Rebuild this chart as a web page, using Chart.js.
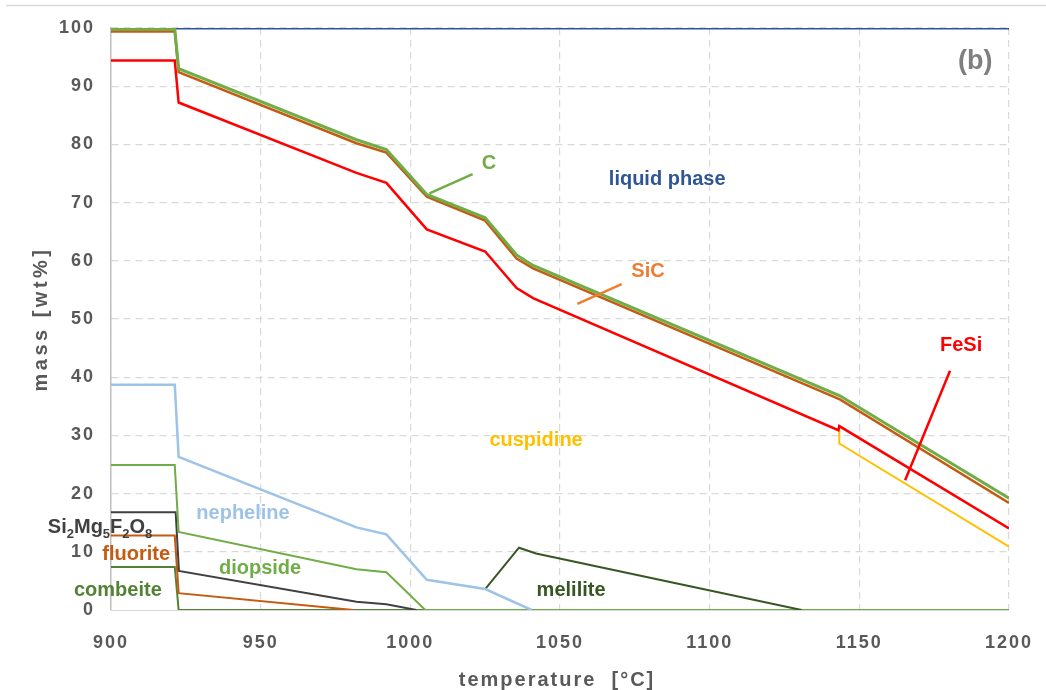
<!DOCTYPE html>
<html>
<head>
<meta charset="utf-8">
<script src="https://cdn.jsdelivr.net/npm/chart.js@4"></script>
<style>
  html, body { margin: 0; padding: 0; background: #fff; }
  #myChart { display: block; }
</style>
</head>
<body>
<canvas id="myChart" width="1046" height="690"></canvas>
<script>
// temperature ticks
const tempTicks = [900, 950, 1000, 1050, 1100, 1150, 1200];

// phases: temperature [°C] and mass [wt%]
const liquidTemp = [921.4, 1200];
const liquidMass = [100, 100];

const cTemp = [900, 921.3, 922.6, 982, 992, 1005.5, 1025, 1035.5, 1041, 1143.5, 1200];
const cMass = [99.8, 99.8, 93.0, 80.8, 79.1, 71.4, 67.4, 61.0, 59.2, 36.8, 19.2];

const sicTemp = [900, 921.3, 922.6, 982, 992, 1005.5, 1025, 1035.5, 1041, 1143.5, 1200];
const sicMass = [99.4, 99.4, 92.4, 80.2, 78.6, 71.0, 66.9, 60.4, 58.7, 36.2, 18.4];

const fesiTemp = [900, 921.3, 922.6, 982, 992, 1005.5, 1025, 1035.5, 1041, 1143.0, 1143.3, 1200];
const fesiMass = [94.4, 94.4, 87.2, 75.1, 73.4, 65.4, 61.6, 55.3, 53.6, 30.9, 31.6, 14.0];

const cuspTemp = [1143.3, 1143.3, 1200];
const cuspMass = [31.3, 28.6, 10.9];

const nephTemp = [900, 921.3, 922.6, 982, 992, 1005.5, 1025, 1040.5];
const nephMass = [38.7, 38.7, 26.3, 14.2, 13.0, 5.2, 3.6, 0];

const melTemp = [1025, 1036.3, 1042, 1130.7];
const melMass = [3.6, 10.7, 9.7, 0];

const diopTemp = [900, 921.3, 922.6, 982, 992, 1005, 1200];
const diopMass = [24.9, 24.9, 13.4, 7.0, 6.5, 0, 0];

const simgTemp = [900, 921.6, 922.7, 982, 992, 1002];
const simgMass = [16.8, 16.8, 6.7, 1.4, 1.0, 0];

const fluoTemp = [900, 921.3, 922.6, 981];
const fluoMass = [12.8, 12.8, 2.9, 0];

const combTemp = [900, 921.3, 922.6, 1005];
const combMass = [7.4, 7.4, 0, 0];

function pts(t, m) {
  return t.map((x, i) => ({ x: x, y: m[i] }));
}

function line(label, t, m, color, width) {
  return {
    label: label,
    data: pts(t, m),
    borderColor: color,
    backgroundColor: color,
    borderWidth: width,
    pointRadius: 0,
    tension: 0,
    fill: false,
  };
}

// text labels placed in data units
const labels = [
  { text: "(b)", x: 1188.7, y: 94.2, color: "#7F7F7F", size: 27 },
  { text: "liquid phase", x: 1085.8, y: 73.9, color: "#2F5597", size: 20 },
  { text: "C", x: 1026.3, y: 76.8, color: "#70AD47", size: 20 },
  { text: "SiC", x: 1079.4, y: 58.1, color: "#ED7D31", size: 20 },
  { text: "FeSi", x: 1184.0, y: 45.4, color: "#FF0000", size: 20 },
  { text: "cuspidine", x: 1042.0, y: 29.2, color: "#FFC000", size: 20 },
  { text: "nepheline", x: 944.1, y: 16.5, color: "#9DC3E6", size: 20 },
  { text: "diopside", x: 949.8, y: 7.2, color: "#70AD47", size: 20 },
  { text: "fluorite", x: 908.4, y: 9.5, color: "#C55A11", size: 20 },
  { text: "combeite", x: 902.3, y: 3.3, color: "#548235", size: 20 },
  { text: "melilite", x: 1053.7, y: 3.4, color: "#375623", size: 20 },
];

// leader lines [x, y] in data units
const leaders = [
  { from: [1006.4, 71.6], to: [1020.8, 74.9], color: "#70AD47" },
  { from: [1055.8, 52.6], to: [1070.6, 56.0], color: "#ED7D31" },
  { from: [1165.3, 22.3], to: [1180.3, 41.1], color: "#FF0000" },
];

const decor = {
  id: "decor",
  beforeLayout(chart) {
    chart.ctx.letterSpacing = "2px";
  },
  beforeDraw(chart) {
    const ctx = chart.ctx;
    ctx.letterSpacing = "2px";
    ctx.save();
    ctx.strokeStyle = "#D9D9D9";
    ctx.lineWidth = 1.5;
    ctx.beginPath();
    ctx.moveTo(6, 5.5);
    ctx.lineTo(1046, 5.5);
    ctx.stroke();
    ctx.restore();
  },
  afterDatasetsDraw(chart) {
    const ctx = chart.ctx;
    const xs = chart.scales.x;
    const ys = chart.scales.y;
    ctx.save();
    ctx.lineWidth = 2.5;
    leaders.forEach((l) => {
      ctx.strokeStyle = l.color;
      ctx.beginPath();
      ctx.moveTo(xs.getPixelForValue(l.from[0]), ys.getPixelForValue(l.from[1]));
      ctx.lineTo(xs.getPixelForValue(l.to[0]), ys.getPixelForValue(l.to[1]));
      ctx.stroke();
    });
    ctx.letterSpacing = "0px";
    ctx.textAlign = "center";
    ctx.textBaseline = "middle";
    labels.forEach((l) => {
      ctx.font = "bold " + l.size + 'px "Liberation Sans", Arial, sans-serif';
      ctx.fillStyle = l.color;
      ctx.fillText(l.text, xs.getPixelForValue(l.x), ys.getPixelForValue(l.y));
    });

    // Si2Mg5F2O8 with subscripts
    const parts = [["Si", 0], ["2", 1], ["Mg", 0], ["5", 1], ["F", 0], ["2", 1], ["O", 0], ["8", 1]];
    let px = xs.getPixelForValue(878.9);
    const py = ys.getPixelForValue(14.1);
    ctx.textAlign = "left";
    ctx.fillStyle = "#404040";
    parts.forEach((p) => {
      ctx.font = p[1] ? 'bold 13px "Liberation Sans", Arial, sans-serif' : 'bold 20px "Liberation Sans", Arial, sans-serif';
      ctx.fillText(p[0], px, py + (p[1] ? 6 : 0));
      px += ctx.measureText(p[0]).width;
    });

    // axis titles
    ctx.fillStyle = "#595959";
    ctx.textAlign = "center";
    ctx.font = 'bold 20px "Liberation Sans", Arial, sans-serif';
    ctx.letterSpacing = "2px";
    ctx.fillText("temperature  [°C]", 557, 680);
    ctx.translate(41, 319);
    ctx.rotate(-Math.PI / 2);
    ctx.letterSpacing = "3.5px";
    ctx.font = 'bold 20px "Liberation Sans", Arial, sans-serif';
    ctx.fillText("mass [wt%]", 0, 0);
    ctx.restore();
    ctx.letterSpacing = "2px";
  },
};

const ctx = document.getElementById("myChart");
new Chart(ctx, {
  type: "line",
  data: {
    datasets: [
      line("C", cTemp, cMass, "#70AD47", 3),
      line("SiC", sicTemp, sicMass, "#C55A11", 2.5),
      line("FeSi", fesiTemp, fesiMass, "#FF0000", 2.5),
      line("cuspidine", cuspTemp, cuspMass, "#FFC000", 2),
      line("liquid phase", liquidTemp, liquidMass, "#2F5597", 3),
      line("nepheline", nephTemp, nephMass, "#9DC3E6", 2.5),
      line("melilite", melTemp, melMass, "#375623", 2),
      line("diopside", diopTemp, diopMass, "#70AD47", 2),
      line("Si2Mg5F2O8", simgTemp, simgMass, "#404040", 2),
      line("fluorite", fluoTemp, fluoMass, "#C55A11", 2),
      line("combeite", combTemp, combMass, "#548235", 2),
    ],
  },
  options: {
    responsive: false,
    animation: false,
    layout: { padding: { top: 28, right: 37, left: 0, bottom: 0 } },
    plugins: {
      legend: { display: false },
      tooltip: { enabled: false },
    },
    scales: {
      x: {
        type: "linear",
        min: 900,
        max: 1200,
        afterFit(scale) {
          scale.height = 80;
          scale.paddingLeft = 0;
          scale.paddingRight = 0;
        },
        afterBuildTicks(scale) { scale.ticks = tempTicks.map((v) => ({ value: v })); },
        grid: {
          color: "#D9D9D9",
          lineWidth: 1.2,
          drawTicks: false,
        },
        border: { display: true, color: "#D9D9D9", dash: [7, 5], width: 1 },
        ticks: {
          padding: 22,
          color: "#595959",
          callback: (v) => String(v),
          font: { family: '"Liberation Sans", Arial, sans-serif', size: 18, weight: "bold" },
        },
      },
      y: {
        min: 0,
        max: 100,
        afterFit(scale) { scale.width = 111; },
        grid: {
          color: (c) => (c.tick && c.tick.value === 0 ? "rgba(0,0,0,0)" : "#D9D9D9"),
          lineWidth: 1.2,
          drawTicks: false,
        },
        border: { display: true, color: "#BFBFBF", dash: [7, 5], width: 1.5 },
        ticks: {
          stepSize: 10,
          padding: 16,
          color: "#595959",
          callback: (v) => String(v),
          font: { family: '"Liberation Sans", Arial, sans-serif', size: 18, weight: "bold" },
        },
      },
    },
  },
  plugins: [decor],
});
</script>
</body>
</html>
